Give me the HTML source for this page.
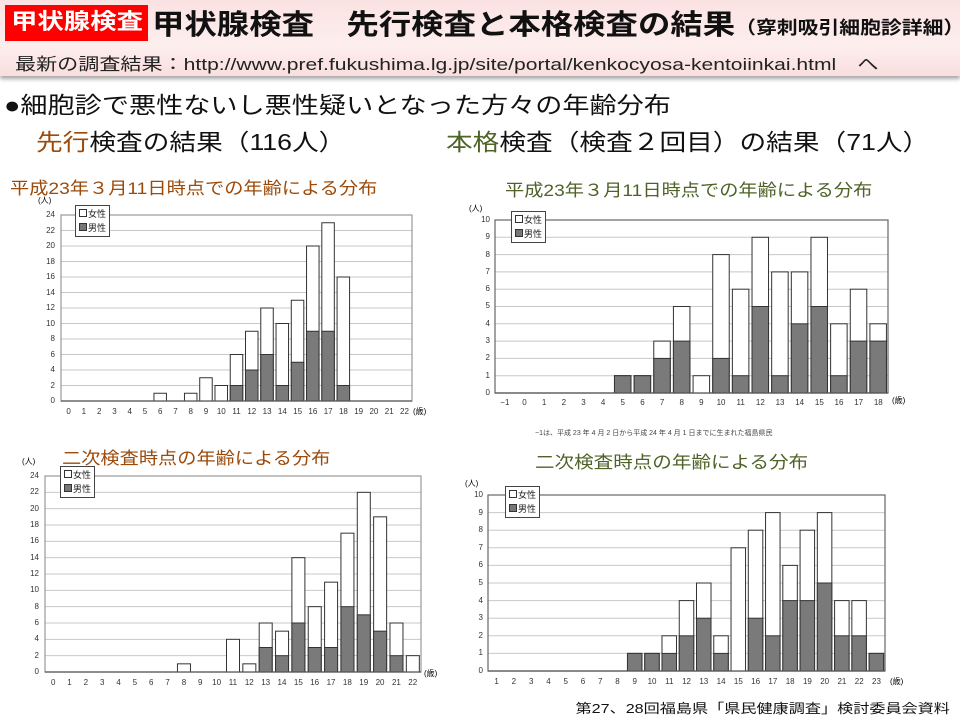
<!DOCTYPE html>
<html><head><meta charset="utf-8">
<style>
body{margin:0;width:960px;height:720px;overflow:hidden;background:#fff;font-family:"Liberation Sans","Noto Sans CJK JP",sans-serif;position:relative}
.a{position:absolute;white-space:nowrap;transform-origin:left top}
.band{position:absolute;left:0;top:0;width:960px;height:76px;background:linear-gradient(#fbe2e2,#fdeeee 60%,#f9dede);box-shadow:0 3px 4px rgba(0,0,0,.35)}
.yl{position:absolute;display:flex;flex-direction:column;justify-content:space-between;text-align:right;font-size:8px;line-height:10px;color:#333}
.xl{position:absolute;display:flex;font-size:8px;color:#333}
.xl span{flex:1;text-align:center}
.leg{position:absolute;border:1px solid #444;background:#fff;font-size:9px;line-height:14px;padding:1px 3px;color:#222}
.sq{display:inline-block;width:6px;height:6px;border:1px solid #333;margin-right:1px;vertical-align:0}
</style></head><body>
<div class="band"></div>
<div class="a" style="left:5px;top:5px;width:143px;height:36px;background:#f00"></div>
<div class="a" style="left:11px;top:7px;color:#fff;font-weight:bold;font-size:22px;line-height:30px;transform:scaleX(1.2)">甲状腺検査</div>
<div class="a" style="left:152px;top:3px;font-size:28px;font-weight:bold;color:#111;transform:scaleX(1.157)">甲状腺検査　先行検査と本格検査の結果<span style="font-size:18px">（穿刺吸引細胞診詳細）</span></div>
<div class="a" style="left:15px;top:50px;font-size:17px;color:#222;transform:scaleX(1.24)">最新の調査結果：http://www.pref.fukushima.lg.jp/site/portal/kenkocyosa-kentoiinkai.html　へ</div>
<div class="a" style="left:4px;top:86px;font-size:23px;color:#111;transform:scaleX(1.18)">●細胞診で悪性ないし悪性疑いとなった方々の年齢分布</div>
<div class="a" style="left:36px;top:123px;font-size:23px;color:#111;transform:scaleX(1.16)"><span style="color:#9c4a0a">先行</span>検査の結果（116人）</div>
<div class="a" style="left:446px;top:123px;font-size:23px;color:#111;transform:scaleX(1.16)"><span style="color:#4f6228">本格</span>検査（検査２回目）の結果（71人）</div>
<div class="a" style="left:10px;top:174px;font-size:17px;color:#9c4a0a;transform:scaleX(1.13)">平成23年３月11日時点での年齢による分布</div>
<div class="a" style="left:505px;top:176px;font-size:17px;color:#4f6228;transform:scaleX(1.13)">平成23年３月11日時点での年齢による分布</div>
<div class="a" style="left:62px;top:444px;font-size:17px;color:#9c4a0a;transform:scaleX(1.13)">二次検査時点の年齢による分布</div>
<div class="a" style="left:535px;top:448px;font-size:17px;color:#4f6228;transform:scaleX(1.15)">二次検査時点の年齢による分布</div>
<div class="a" style="right:10px;top:698px;font-size:13px;color:#111;transform:scaleX(1.24);transform-origin:right top">第27、28回福島県「県民健康調査」検討委員会資料</div>
<div class="a" style="left:535px;top:428px;font-size:7px;color:#444">−1は、平成 23 年 4 月 2 日から平成 24 年 4 月 1 日までに生まれた福島県民</div>

<svg id="s" width="960" height="720" style="position:absolute;left:0;top:0"></svg>

<div class="a" style="left:38px;top:195px;font-size:8px">(人)</div>
<div class="yl" style="left:30px;top:210px;width:25px;height:196px"><span>24</span><span>22</span><span>20</span><span>18</span><span>16</span><span>14</span><span>12</span><span>10</span><span>8</span><span>6</span><span>4</span><span>2</span><span>0</span></div>
<div class="xl" style="left:61px;top:407px;width:351px"><span>0</span><span>1</span><span>2</span><span>3</span><span>4</span><span>5</span><span>6</span><span>7</span><span>8</span><span>9</span><span>10</span><span>11</span><span>12</span><span>13</span><span>14</span><span>15</span><span>16</span><span>17</span><span>18</span><span>19</span><span>20</span><span>21</span><span>22</span></div>
<div class="a" style="left:413px;top:406px;font-size:8px">(歳)</div>
<div class="leg" style="left:75px;top:205px"><span class="sq"></span>女性<br><span class="sq" style="background:#777"></span>男性</div>

<div class="a" style="left:469px;top:203px;font-size:8px">(人)</div>
<div class="yl" style="left:465px;top:215px;width:25px;height:183px"><span>10</span><span>9</span><span>8</span><span>7</span><span>6</span><span>5</span><span>4</span><span>3</span><span>2</span><span>1</span><span>0</span></div>
<div class="xl" style="left:495px;top:398px;width:393px"><span>−1</span><span>0</span><span>1</span><span>2</span><span>3</span><span>4</span><span>5</span><span>6</span><span>7</span><span>8</span><span>9</span><span>10</span><span>11</span><span>12</span><span>13</span><span>14</span><span>15</span><span>16</span><span>17</span><span>18</span></div>
<div class="a" style="left:892px;top:395px;font-size:8px">(歳)</div>
<div class="leg" style="left:511px;top:211px"><span class="sq"></span>女性<br><span class="sq" style="background:#777"></span>男性</div>

<div class="a" style="left:22px;top:456px;font-size:8px">(人)</div>
<div class="yl" style="left:14px;top:471px;width:25px;height:206px"><span>24</span><span>22</span><span>20</span><span>18</span><span>16</span><span>14</span><span>12</span><span>10</span><span>8</span><span>6</span><span>4</span><span>2</span><span>0</span></div>
<div class="xl" style="left:45px;top:678px;width:376px"><span>0</span><span>1</span><span>2</span><span>3</span><span>4</span><span>5</span><span>6</span><span>7</span><span>8</span><span>9</span><span>10</span><span>11</span><span>12</span><span>13</span><span>14</span><span>15</span><span>16</span><span>17</span><span>18</span><span>19</span><span>20</span><span>21</span><span>22</span></div>
<div class="a" style="left:424px;top:668px;font-size:8px">(歳)</div>
<div class="leg" style="left:60px;top:466px"><span class="sq"></span>女性<br><span class="sq" style="background:#777"></span>男性</div>

<div class="a" style="left:465px;top:478px;font-size:8px">(人)</div>
<div class="yl" style="left:458px;top:490px;width:25px;height:186px"><span>10</span><span>9</span><span>8</span><span>7</span><span>6</span><span>5</span><span>4</span><span>3</span><span>2</span><span>1</span><span>0</span></div>
<div class="xl" style="left:488px;top:677px;width:397px"><span>1</span><span>2</span><span>3</span><span>4</span><span>5</span><span>6</span><span>7</span><span>8</span><span>9</span><span>10</span><span>11</span><span>12</span><span>13</span><span>14</span><span>15</span><span>16</span><span>17</span><span>18</span><span>19</span><span>20</span><span>21</span><span>22</span><span>23</span></div>
<div class="a" style="left:890px;top:676px;font-size:8px">(歳)</div>
<div class="leg" style="left:505px;top:486px"><span class="sq"></span>女性<br><span class="sq" style="background:#777"></span>男性</div>

<script>
var s=document.getElementById('s'),h='';
function chart(x0,x1,y0,y1,max,step,n,first,data,bw,frame){
  var W=x1-x0,H=y1-y0,cw=W/n;
  for(var v=step;v<max;v+=step){var y=y1-v/max*H;h+='<line x1="'+x0+'" x2="'+x1+'" y1="'+y+'" y2="'+y+'" stroke="#c8c8c8" stroke-width="1"/>';}
  h+='<rect x="'+x0+'" y="'+y0+'" width="'+W+'" height="'+H+'" fill="none" stroke="'+frame+'" stroke-width="1.2"/>';
  for(var k in data){var i=+k-first,t=data[k][0],m=data[k][1],bx=x0+i*cw+(cw-bw)/2;
    h+='<rect x="'+bx+'" y="'+(y1-t/max*H)+'" width="'+bw+'" height="'+(t/max*H)+'" fill="#fff" stroke="#333" stroke-width="1"/>';
    if(m)h+='<rect x="'+bx+'" y="'+(y1-m/max*H)+'" width="'+bw+'" height="'+(m/max*H)+'" fill="#7a7a7a" stroke="#333" stroke-width="1"/>';}
  h+='<line x1="'+x0+'" x2="'+x1+'" y1="'+y1+'" y2="'+y1+'" stroke="#555" stroke-width="1.2"/>';
}
chart(61,412,215,401,24,2,23,0,{6:[1,0],8:[1,0],9:[3,0],10:[2,0],11:[6,2],12:[9,4],13:[12,6],14:[10,2],15:[13,5],16:[20,9],17:[23,9],18:[16,2]},12.5,'#999');
chart(495,888,220,393,10,1,20,-1,{5:[1,1],6:[1,1],7:[3,2],8:[5,3],9:[1,0],10:[8,2],11:[6,1],12:[9,5],13:[7,1],14:[7,4],15:[9,5],16:[4,1],17:[6,3],18:[4,3]},16.5,'#666');
chart(45,421,476,672,24,2,23,0,{8:[1,0],11:[4,0],12:[1,0],13:[6,3],14:[5,2],15:[14,6],16:[8,3],17:[11,3],18:[17,8],19:[22,7],20:[19,5],21:[6,2],22:[2,0]},13,'#999');
chart(488,885,495,671,10,1,23,1,{9:[1,1],10:[1,1],11:[2,1],12:[4,2],13:[5,3],14:[2,1],15:[7,0],16:[8,3],17:[9,2],18:[6,4],19:[8,4],20:[9,5],21:[4,2],22:[4,2],23:[1,1]},14.5,'#666');
s.innerHTML=h;
</script>
</body></html>
